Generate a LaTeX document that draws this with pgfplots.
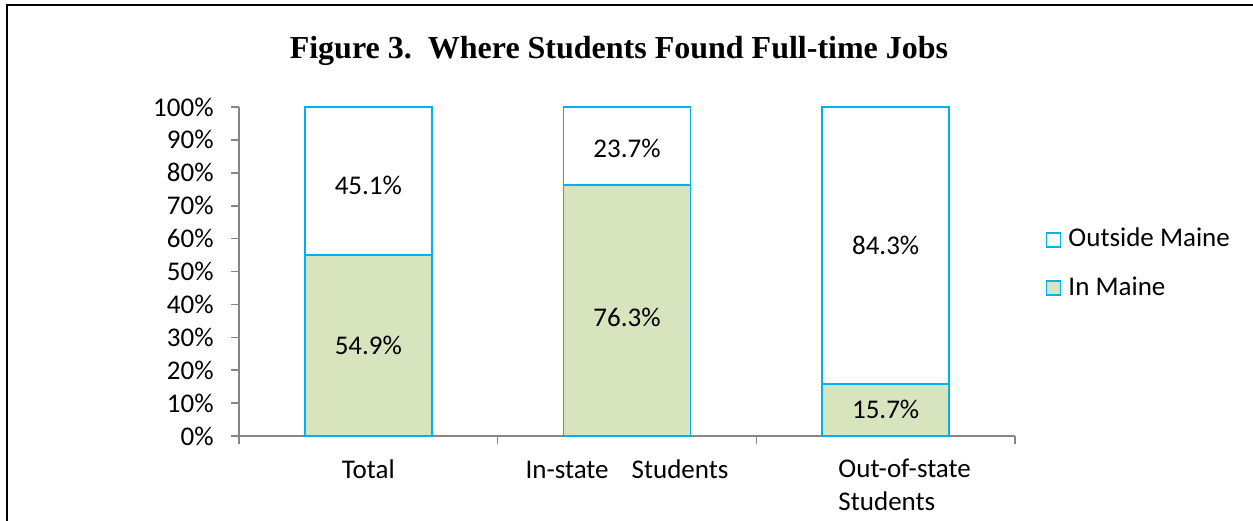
\documentclass[border=0pt]{standalone}
\usepackage{fontspec}
\setmainfont{Carlito}
\newfontfamily\titlefont{Liberation Serif}
\usepackage{pgfplots}
\pgfplotsset{compat=1.18}
\definecolor{barline}{HTML}{00B0F0}
\definecolor{ingreen}{HTML}{D7E4BD}
\definecolor{axgray}{HTML}{868686}

\begin{document}
\fontsize{13.5pt}{16.5pt}\selectfont
\begin{tikzpicture}
\useasboundingbox (0,0) rectangle (626.5pt,260pt);
\draw[line width=1.1pt] (3.3pt,-2pt) -- (3.3pt,257.5pt) -- (630pt,257.5pt);
\node[font=\titlefont\fontsize{16pt}{19pt}\selectfont\bfseries] at (309.5pt,234.5pt)
  {Figure 3.\ \ Where Students Found Full-time Jobs};

\begin{axis}[
  at={(119.5pt,42pt)}, anchor=south west,
  scale only axis,
  width=388pt, height=164.5pt,
  ybar stacked,
  bar width=63.5pt,
  xmin=-0.5, xmax=2.5,
  ymin=0, ymax=100,
  axis lines=left,
  axis line style={-, axgray, line width=0.8pt},
  tick style={axgray, line width=0.8pt},
  tick align=outside,
  major tick length=4pt,
  xtick={-0.5,0.5,1.5,2.5},
  x tick label as interval,
  xticklabels={Total, In-state\hspace{11.5pt}Students, {\hspace*{19pt}Out-of-state\\\hspace*{19pt}Students}},
  x tick label style={align=left, yshift=-3pt, text depth=0pt},
  ytick={0,10,...,100},
  yticklabel={\pgfmathprintnumber{\tick}\%},
  y tick label style={xshift=-4pt},
  /pgf/number format/assume math mode=true,
  tick label style={font=\fontsize{13.5pt}{16.5pt}\selectfont},
  legend style={draw=none, fill=none, at={(1.039,0.523)}, anchor=west,
    inner sep=0pt, row sep=9pt, font=\fontsize{13.5pt}{16.5pt}\selectfont,
    /tikz/every odd column/.append style={column sep=1.5pt}},
  legend cell align=left,
  reverse legend,
  legend image code/.code={\draw[#1, line width=0.9pt] (0pt,-3.5pt) rectangle (7pt,3.5pt);},
  clip=false,
]
\addplot[fill=ingreen, draw=barline, line width=0.9pt] coordinates {(0,54.9) (1,76.3) (2,15.7)};
\addplot[fill=white, draw=barline, line width=0.9pt] coordinates {(0,45.1) (1,23.7) (2,84.3)};
\legend{In Maine, Outside Maine}

\coordinate (a1) at (axis cs:0,27.45);
\coordinate (a2) at (axis cs:0,76.1);
\coordinate (b1) at (axis cs:1,36.0);
\coordinate (b2) at (axis cs:1,87.5);
\coordinate (c1) at (axis cs:2,8.2);
\coordinate (c2) at (axis cs:2,58.0);
\end{axis}
\node at (a1) {54.9\%};
\node at (a2) {45.1\%};
\node at (b1) {76.3\%};
\node at (b2) {23.7\%};
\node at (c1) {15.7\%};
\node at (c2) {84.3\%};
\end{tikzpicture}
\end{document}
